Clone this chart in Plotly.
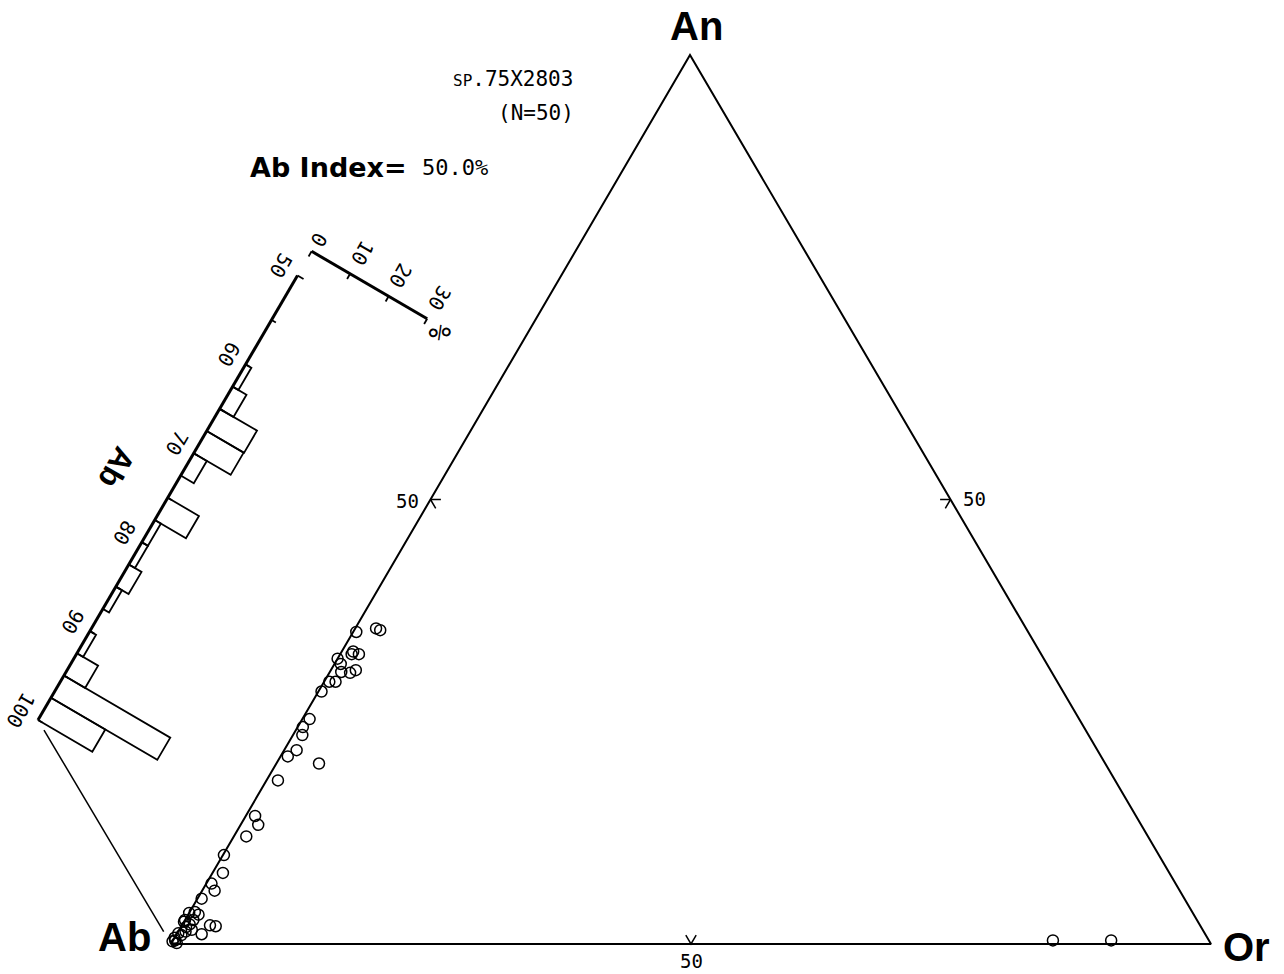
import math
import plotly.graph_objects as go

# ---------------- data ----------------
# feldspar compositions (mol %)
pt_an = [35.1, 35.5, 35.3, 32.9, 32.6, 32.6, 32.1, 31.5, 30.6, 30.5,
         30.8, 29.5, 29.5, 28.4, 25.3, 24.4, 23.5, 21.8, 21.1, 20.3,
         18.4, 14.4, 13.4, 12.1, 10.0, 8.0, 6.8, 6.0, 5.1, 3.6,
         3.5, 3.3, 2.7, 2.5, 2.7, 2.1, 2.0, 1.1, 1.6, 1.4,
         1.2, 1.9, 0.4, 0.3, 0.1, 1.0, 2.2, 0.7, 0.4, 0.4]
pt_or = [0.3, 2.0, 2.5, 1.1, 1.8, 1.1, 0.0, 0.6, 1.1, 2.0,
         2.4, 0.5, 1.1, 0.3, 0.7, 0.5, 0.9, 1.2, 0.7, 4.1,
         1.1, 0.9, 1.7, 1.2, 0.1, 1.0, 0.5, 1.2, 0.4, 0.5,
         0.0, 1.0, 0.0, 0.0, 0.8, 2.7, 3.3, 2.4, 1.2, 0.7,
         0.1, 0.5, 0.2, 0.0, 0.5, 0.5, 0.7, 0.0, 84.6, 90.2]
pt_ab = [round(100 - a - o, 1) for a, o in zip(pt_an, pt_or)]

# Ab histogram (bins of 2.5 % Ab, from 50 to 100), frequency in %
hist_lo = [50, 52.5, 55, 57.5, 60, 62.5, 65, 67.5, 70, 72.5,
           75, 77.5, 80, 82.5, 85, 87.5, 90, 92.5, 95, 97.5]
hist_pct = [0, 0, 0, 0, 1.5, 3.6, 9.7, 9.6, 3.4, 0,
            8.1, 1.6, 1.6, 3.3, 1.6, 0, 1.6, 5.5, 27.6, 14.1]
hist_width = 2.5
hist_tick_vals = [50, 55, 60, 65, 70, 75, 80, 85, 90, 95, 100]
hist_label_vals = [50, 60, 70, 80, 90, 100]
pct_tick_vals = [0, 10, 20, 30]
tern_tick_val = 50

title_sample = "SP.75X2803"
title_n = "(N=50)"
ab_index = "50.0%"

# ---------------- geometry (reference pixel frame) ----------------
V_AB = (171.0, 944.0)
V_OR = (1211.0, 944.0)
V_AN = (690.0, 55.0)


def tern(ab, an, orr):
    s = ab + an + orr
    x = (ab * V_AB[0] + orr * V_OR[0] + an * V_AN[0]) / s
    y = (ab * V_AB[1] + orr * V_OR[1] + an * V_AN[1]) / s
    return x, y


ex, ey = V_AN[0] - V_AB[0], V_AN[1] - V_AB[1]
elen = math.hypot(ex, ey)
UX, UY = ex / elen, ey / elen          # along Ab-An edge
PX, PY = -UY, UX                       # perpendicular (bars direction)
K = elen / 100.0                       # px per Ab unit
SHIFT = (-133.0, -224.0)               # histogram frame offset
S_PCT = 4.46                           # px per %


def hist_pt(abv, pct):
    bx, by = tern(abv, 100 - abv, 0)
    return (bx + SHIFT[0] + pct * S_PCT * PX,
            by + SHIFT[1] + pct * S_PCT * PY)


PCT_BASE = 50 - 28 / K   # percent scale sits on the axis extension

fig = go.Figure()
BLK = "black"


def add_lines(segs, width):
    xs, ys = [], []
    for seg in segs:
        for (x, y) in seg:
            xs.append(x)
            ys.append(y)
        xs.append(None)
        ys.append(None)
    fig.add_trace(go.Scatter(x=xs, y=ys, mode="lines",
                             line=dict(color=BLK, width=width),
                             hoverinfo="skip", showlegend=False))


# triangle
tri = [tern(100, 0, 0), tern(0, 0, 100), tern(0, 100, 0), tern(100, 0, 0)]
add_lines([tri], 2)

# 50 % ticks on the triangle edges
t = tern_tick_val
d = 1.0
tick_segs = [
    [tern(t - d, d, t), tern(t, 0, t), tern(t, d, t - d)],          # bottom
    [tern(t - d, t, d), tern(t, t, 0), tern(t, t - d, d)],          # left
    [tern(d, t, t - d), tern(0, t, t), tern(d, t - d, t)],          # right
]
add_lines(tick_segs, 1.5)

# histogram bars
bars = []
for lo, v in zip(hist_lo, hist_pct):
    if v <= 0:
        continue
    hi = lo + hist_width
    bars.append([hist_pt(lo, 0), hist_pt(lo, v), hist_pt(hi, v), hist_pt(hi, 0)])
add_lines(bars, 1.8)

# histogram axis
add_lines([[hist_pt(100, 0), hist_pt(50, 0)]], 3)
add_lines([[hist_pt(v, 0), hist_pt(v, (7 if v == 50 else 5) / S_PCT)]
           for v in hist_tick_vals], 1.8)

# percent scale
add_lines([[hist_pt(PCT_BASE, 0), hist_pt(PCT_BASE, 30)]], 3)
add_lines([[hist_pt(PCT_BASE, v), hist_pt(PCT_BASE + 6 / K, v)]
           for v in pct_tick_vals], 1.8)

# connecting line from histogram to Ab corner
p0 = hist_pt(100, 0)
p1 = tern(100, 0, 0)
f0, f1 = 0.045, 0.945
add_lines([[(p0[0] + f0 * (p1[0] - p0[0]), p0[1] + f0 * (p1[1] - p0[1])),
            (p0[0] + f1 * (p1[0] - p0[0]), p0[1] + f1 * (p1[1] - p0[1]))]], 1.5)

# points
xy = [tern(a, n, o) for a, n, o in zip(pt_ab, pt_an, pt_or)]
fig.add_trace(go.Scatter(x=[p[0] for p in xy], y=[p[1] for p in xy],
                         mode="markers",
                         marker=dict(symbol="circle-open", size=11,
                                     color=BLK, line=dict(width=1.5, color=BLK)),
                         hoverinfo="skip", showlegend=False))

# ---------------- text ----------------
ann = []


def txt(x, y, s, size, family, angle=0, xa="center", ya="middle"):
    ann.append(dict(x=x, y=y, xref="x", yref="y", text=s, showarrow=False,
                    textangle=angle, xanchor=xa, yanchor=ya,
                    font=dict(size=size, family=family, color=BLK)))


SANS = "Liberation Sans"
MONO = "DejaVu Sans Mono"

txt(696, 26, "<b>An</b>", 40, SANS)
txt(124, 937, "<b>Ab</b>", 40, SANS)
txt(1246, 947, "<b>Or</b>", 40, SANS)

lx, ly = tern(50, 50, 0)
txt(lx - 10, ly + 1, str(tern_tick_val), 19, MONO, xa="right")
rx, ry = tern(0, 50, 50)
txt(rx + 10, ry - 1, str(tern_tick_val), 19, MONO, xa="left")
bx, by = tern(50, 0, 50)
txt(bx, by + 17, str(tern_tick_val), 19, MONO)

txt(575, 79, '<span style="font-size:16px">SP</span>' + title_sample[2:], 21, MONO, xa="right")
txt(576, 113, title_n, 21, MONO, xa="right")
txt(248, 167, "<b>Ab Index=</b>", 27, "DejaVu Sans", xa="left")
txt(420, 167, ab_index, 22, MONO, xa="left")

# histogram labels (rotated frame)
for v in hist_label_vals:
    x, y = hist_pt(v, -20 / S_PCT)
    txt(x, y, str(v), 20, MONO, angle=120)
x, y = hist_pt(75, -59 / S_PCT)
txt(x, y, "<b>Ab</b>", 31, SANS, angle=120)

for v in pct_tick_vals:
    off = 14 if v < 10 else 24
    x, y = hist_pt(PCT_BASE - off / K, v)
    txt(x, y, str(v), 20, MONO, angle=120)
x, y = hist_pt(PCT_BASE + 5 / K, 34)
txt(x, y, "%", 28, MONO, angle=120)

fig.update_layout(
    width=1284, height=974,
    margin=dict(l=0, r=0, t=0, b=0),
    paper_bgcolor="white", plot_bgcolor="white",
    showlegend=False,
    xaxis=dict(range=[0, 1284], visible=False, fixedrange=True),
    yaxis=dict(range=[974, 0], visible=False, fixedrange=True),
    annotations=ann,
)

fig.write_html("out.html", config={"displayModeBar": False},
               post_script="document.body.style.margin='0px';document.body.style.overflow='hidden';")
